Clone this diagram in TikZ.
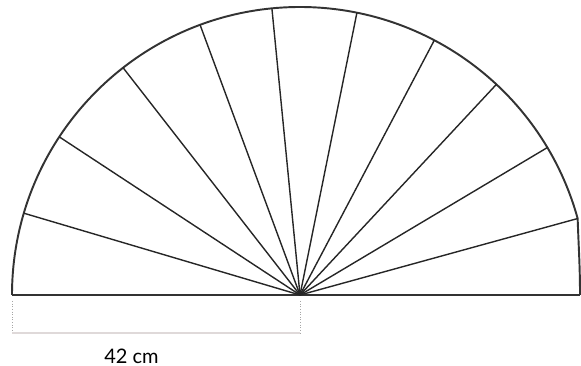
\documentclass[tikz,border=0pt]{standalone}
\usepackage{fontspec}
\setmainfont{Lato}

\begin{document}
\begin{tikzpicture}[x=0.02cm,y=0.02cm,
  rim/.style={line width=1.1pt, black!80},
  ray/.style={line width=0.8pt, black!85},
  guide/.style={densely dotted, line width=0.5pt, black!35},
  measure/.style={line width=0.9pt, red!15!black!15}]

% picture frame
\useasboundingbox (0,0) rectangle (581,365);

%Centre of the fan
\coordinate (o) at (300,70);
\coordinate (l) at (12,70);
\coordinate (r) at (580,70);

%Outer arc
\draw[rim] (l) arc (180:15.4:288) coordinate (e) .. controls +(1,-30) and (580,100) .. (r);

%Base line
\draw[rim, line width=1.3pt] (l) -- (r);

%Rays
\foreach \a in {163.5,146.7,127.9,110.3,95.6,78.6,62.2,47,30.8,15.4}
  \draw[ray] (o) -- ++(\a:288);

% Measure under the left half
\coordinate (ml) at (12,32);
\coordinate (mr) at (300,32);
\draw[guide] (12,64) -- (ml);
\draw[guide] (300,64) -- (mr);
\draw[measure] (ml) -- (mr);
\node[font=\fontsize{11.4}{13}\selectfont, inner sep=0pt] (len) at (131.5,9) {42 cm};

\end{tikzpicture}
\end{document}
